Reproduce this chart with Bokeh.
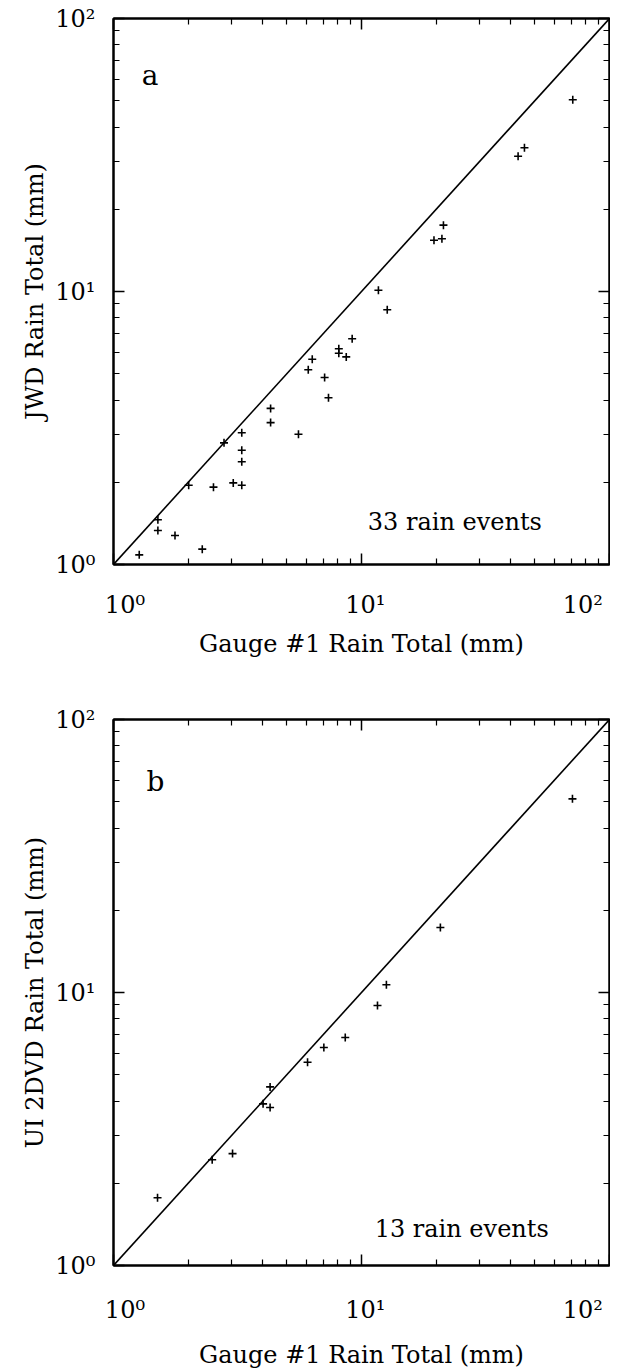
from bokeh.plotting import figure
from bokeh.models import LogAxis, FixedTicker, CustomJSTickFormatter, Range1d
from bokeh.layouts import column
from bokeh.embed import file_html
from bokeh.resources import INLINE
from bokeh.core.properties import value

# ---- data ----
gauge_a = [71.1, 42.8, 45.4, 21.4, 19.6, 21.1, 11.7, 12.7, 9.17, 8.10, 8.10, 8.68,
           6.33, 6.10, 7.10, 7.36, 4.30, 4.30, 5.57, 3.29, 2.79, 3.29, 3.29, 3.29,
           3.04, 2.53, 2.01, 1.51, 1.51, 1.77, 2.28, 1.27]
jwd_a = [50.4, 31.3, 33.6, 17.5, 15.4, 15.6, 10.1, 8.57, 6.71, 6.17, 5.94, 5.76,
         5.65, 5.17, 4.84, 4.08, 3.73, 3.31, 3.00, 3.04, 2.79, 2.62, 2.38, 1.95,
         1.99, 1.92, 1.95, 1.458, 1.332, 1.277, 1.138, 1.085]

gauge_b = [70.9, 20.8, 12.6, 11.6, 8.60, 7.05, 6.06, 4.28, 4.01, 4.28, 3.02, 2.50, 1.505]
dvd_b = [51.2, 17.3, 10.67, 8.96, 6.84, 6.29, 5.55, 4.51, 3.91, 3.79, 2.57, 2.44, 1.77]

one_to_one = [1, 100]

major_ticks = [1, 10, 100]
minor_ticks = [m * 10 ** k for k in (0, 1) for m in range(2, 10)]

x_title = "Gauge #1 Rain Total (mm)"
y_title_a = "JWD Rain Total (mm)"
y_title_b = "UI 2DVD Rain Total (mm)"
note_a = "33 rain events"
note_b = "13 rain events"

FONT = "DejaVu Serif"

SUP_CODE = """
const sup = {'0': '\u2070', '1': '\u00b9', '2': '\u00b2', '3': '\u00b3'};
const e = Math.round(Math.log10(tick));
let s = '10' + String(e).split('').map(c => sup[c]).join('');
if (e == 0) { s = '\u00a0\u00a0\u00a0' + s; }
if (e == 1) { s = '\u00a0' + s; }
if (e == 2) { s = s + '\u00a0'; }
return s;
"""
SUP_CODE_Y = """
const sup = {'0': '\u2070', '1': '\u00b9', '2': '\u00b2', '3': '\u00b3'};
const e = Math.round(Math.log10(tick));
return '10' + String(e).split('').map(c => sup[c]).join('');
"""


def style_axis(ax, labels=True, code=SUP_CODE):
    ax.ticker = FixedTicker(ticks=major_ticks, minor_ticks=minor_ticks)
    ax.axis_line_color = "black"
    ax.axis_line_width = 2
    ax.major_tick_in = 11
    ax.major_tick_out = 0
    ax.minor_tick_in = 6
    ax.minor_tick_out = 0
    ax.major_tick_line_color = "black"
    ax.major_tick_line_width = 1.5
    ax.minor_tick_line_color = "black"
    ax.minor_tick_line_width = 1.2
    if labels:
        ax.formatter = CustomJSTickFormatter(code=code)
        ax.major_label_text_font = FONT
        ax.major_label_text_font_size = "24px"
        ax.major_label_text_color = "black"
        ax.axis_label_text_font = FONT
        ax.axis_label_text_font_size = "24px"
        ax.axis_label_text_font_style = "normal"
        ax.axis_label_text_color = "black"
    else:
        ax.formatter = CustomJSTickFormatter(code="return '';")
        ax.major_label_standoff = 0
        ax.major_label_text_font_size = "1px"


def make_panel(xs, ys, y_title, tag, tag_xy, note, note_xy,
               left, right, top, bottom, x_std, x_title_std, y_std, y_title_std):
    p = figure(x_axis_type="log", y_axis_type="log",
               x_range=Range1d(1, 100), y_range=Range1d(1, 100),
               frame_width=496, frame_height=546,
               min_border_left=left, min_border_right=right,
               min_border_top=top, min_border_bottom=bottom,
               toolbar_location=None, output_backend="svg",
               background_fill_color="white", border_fill_color="white")
    p.outline_line_color = "black"
    p.outline_line_width = 2
    p.xgrid.visible = False
    p.ygrid.visible = False

    style_axis(p.xaxis[0])
    style_axis(p.yaxis[0], code=SUP_CODE_Y)
    p.xaxis[0].axis_label = x_title
    p.yaxis[0].axis_label = y_title
    p.xaxis[0].major_label_standoff = x_std
    p.xaxis[0].axis_label_standoff = x_title_std
    p.yaxis[0].major_label_standoff = y_std
    p.yaxis[0].axis_label_standoff = y_title_std

    top_ax = LogAxis()
    right_ax = LogAxis()
    style_axis(top_ax, labels=False)
    style_axis(right_ax, labels=False)
    p.add_layout(top_ax, "above")
    p.add_layout(right_ax, "right")

    p.line(x=one_to_one, y=one_to_one, line_color="black", line_width=1.6)
    p.scatter(x=xs, y=ys, marker="cross", size=8, line_color="black", line_width=1.6)

    p.text(x=[tag_xy[0]], y=[tag_xy[1]], text=[tag], text_font=value(FONT),
           text_font_size="28px", text_color="black",
           text_align="left", text_baseline="alphabetic")
    p.text(x=[note_xy[0]], y=[note_xy[1]], text=[note], text_font=value(FONT),
           text_font_size="24px", text_color="black",
           text_align="left", text_baseline="alphabetic")
    return p


pa = make_panel(gauge_a, jwd_a, y_title_a, "a", (1.30, 61.8), note_a, (10.6, 1.43),
                left=113, right=1, top=18, bottom=124,
                x_std=26, x_title_std=8, y_std=18, y_title_std=3)
pb = make_panel(gauge_b, dvd_b, y_title_b, "b", (1.36, 59.3), note_b, (11.3, 1.355),
                left=110, right=4, top=31, bottom=96,
                x_std=30, x_title_std=14, y_std=18, y_title_std=3)

layout = column(pa, pb, spacing=0)
open("out.html", "w").write(file_html(layout, INLINE))
